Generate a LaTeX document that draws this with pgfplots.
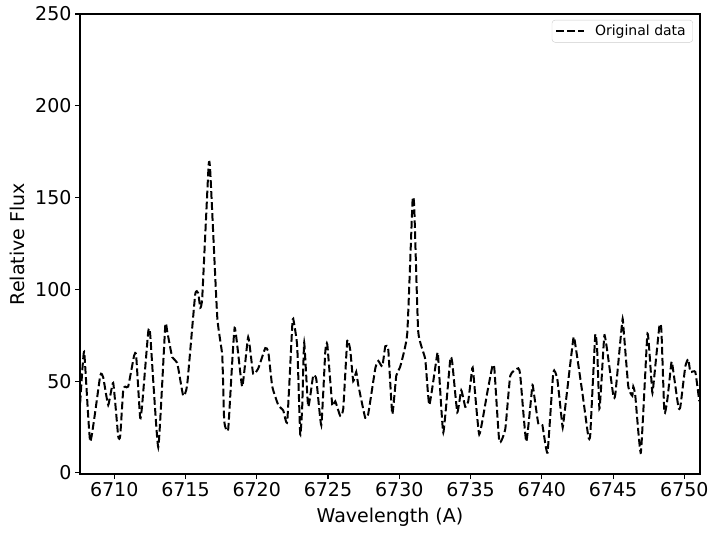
\documentclass[border=0pt]{standalone}
\usepackage{fontspec}
\setmainfont{DejaVu Sans}
\usepackage{pgfplots}
\pgfplotsset{compat=1.18}

\pgfplotstableread{
lam flux
6707.61 38
6707.89 66
6708.32 17
6709.02 53
6709.23 52
6709.58 37
6709.93 49
6710.28 20
6710.42 20
6710.63 45
6710.77 47
6710.98 47
6711.40 64
6711.54 64
6711.82 30
6711.96 37
6712.39 77
6712.53 75
6713.09 14
6713.58 80
6713.72 77
6714.07 63
6714.42 60
6714.84 42
6715.12 48
6715.68 97
6715.89 98
6716.04 90
6716.18 96
6716.62 167
6716.74 164
6717.23 85
6717.58 64
6717.72 28
6718.00 24
6718.45 79
6718.98 47
6719.40 74
6719.75 54
6720.11 57
6720.60 68
6720.81 66
6721.09 47
6721.51 37
6721.86 34
6722.14 28
6722.49 80
6722.56 84
6722.84 69
6723.05 21
6723.19 36
6723.33 71
6723.61 36
6723.96 53
6724.18 51
6724.53 26
6724.81 66
6724.95 70
6725.30 37
6725.51 39
6725.86 31
6726.07 35
6726.35 72
6726.56 67
6726.77 50
6726.98 55
6727.12 48
6727.61 30
6727.82 32
6728.32 57
6728.53 61
6728.81 58
6729.02 69
6729.23 67
6729.51 32
6729.79 53
6730.07 58
6730.56 76
6730.93 148
6731.05 145
6731.33 77
6731.82 62
6732.11 37
6732.67 65
6732.74 62
6733.09 22
6733.58 62
6733.72 60
6734.07 33
6734.35 45
6734.63 36
6734.84 39
6735.12 57
6735.19 55
6735.61 21
6736.18 44
6736.53 58
6736.67 57
6737.02 17
6737.44 24
6737.79 53
6738.35 57
6738.49 53
6738.91 17
6739.33 47
6739.40 46
6739.75 27
6740.04 26
6740.40 11
6740.81 55
6741.09 51
6741.44 26
6741.51 27
6742.21 73
6742.35 70
6742.84 44
6743.26 20
6743.40 21
6743.75 75
6743.89 66
6744.04 35
6744.18 49
6744.39 75
6744.60 66
6745.02 42
6745.16 43
6745.65 83
6745.72 80
6746.07 47
6746.35 42
6746.42 47
6746.56 42
6746.95 11
6747.40 75
6747.54 67
6747.75 44
6747.82 47
6748.25 80
6748.39 78
6748.60 33
6748.81 40
6749.09 60
6749.16 59
6749.58 36
6749.72 36
6750.07 58
6750.28 62
6750.42 55
6750.77 55
6751.05 39
}\spectrum

\begin{document}
\begin{tikzpicture}
\begin{axis}[
  scale only axis, width=620pt, height=460pt,
  xmin=6707.6, xmax=6751.1, ymin=-0.6, ymax=250,
  xtick={6710,6715,...,6750}, ytick={0,50,...,250},
  /pgf/number format/assume math mode=true,
  /pgf/number format/1000 sep={},
  tick align=outside, tick pos=left, major tick length=5pt,
  axis line style={line width=1.1pt}, every tick/.style={line width=1.1pt, black},
  ticklabel style={font=\fontsize{19}{22}\selectfont},
  xlabel={Wavelength (A)}, ylabel={Relative Flux},
  every axis x label/.style={at={(axis description cs:0.5,-0.0935)}, anchor=center,
    font=\fontsize{19}{22}\selectfont},
  every axis y label/.style={at={(axis description cs:-0.1016,0.5)}, rotate=90, anchor=center,
    font=\fontsize{19}{22}\selectfont},
  legend style={at={(0.9887,0.987)}, anchor=north east,
    font=\fontsize{14}{16}\selectfont, draw=black!20, rounded corners=3pt,
    inner xsep=3pt, inner ysep=3pt},
  legend cell align=left,
  legend image code/.code={\draw[#1] (2pt,0pt) -- (30pt,0pt); \path (38pt,0pt);},
]
\addplot[black, line width=2pt, dash pattern=on 7.7pt off 3.3pt, smooth, tension=0.25]
  table[x=lam, y=flux] {\spectrum};
\addlegendentry{Original data\hspace*{2pt}}
\end{axis}
\pgfresetboundingbox
\path ([xshift=-80pt,yshift=-58pt]current axis.south west) rectangle ([xshift=13pt,yshift=14pt]current axis.north east);
\end{tikzpicture}
\end{document}
